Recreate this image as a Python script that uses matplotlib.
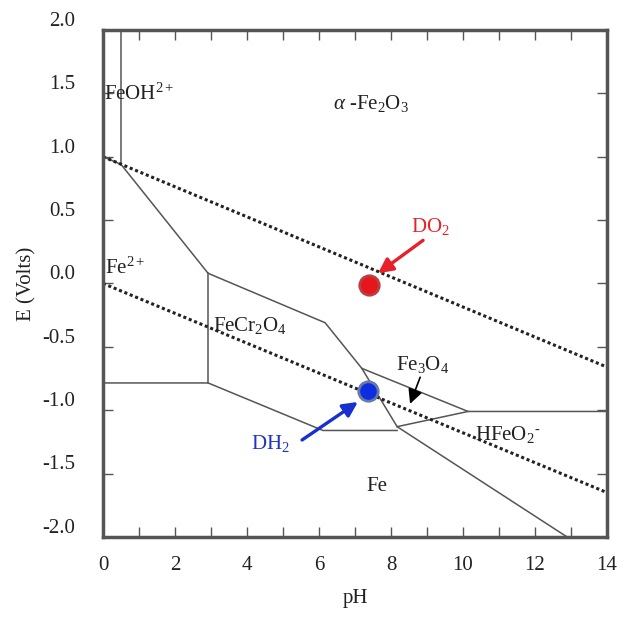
import matplotlib
matplotlib.use('Agg')
import matplotlib.pyplot as plt
import matplotlib.transforms as mtransforms
import numpy as np

# boundary lines of the Pourbaix diagram (pH, E)
feoh_ph = [0.5, 0.5]
feoh_e = [2.0, 0.94]

upper_ph = [0.0, 0.5, 2.92, 6.17, 7.19, 8.17, 12.89]
upper_e = [1.0, 0.94, 0.08, -0.31, -0.67, -1.13, -2.0]

fe3o4_top_ph = [7.19, 10.14, 14.0]
fe3o4_top_e = [-0.67, -1.01, -1.01]

fe3o4_bot_ph = [8.17, 10.14]
fe3o4_bot_e = [-1.13, -1.01]

fecr_vert_ph = [2.92, 2.92]
fecr_vert_e = [0.08, -0.785]

lower_ph = [0.0, 2.92, 6.11, 8.17]
lower_e = [-0.785, -0.785, -1.16, -1.16]

# water stability lines
water_ph = [0.0, 14.0]
o2_e = [1.0, -0.66]
h2_e = [0.0, -1.65]

# measured potentials
do2_point = (7.38, -0.01)
dh2_point = (7.36, -0.85)

# arrows (tail, head)
do2_arrow = ((8.89, 0.34), (7.64, 0.08))
dh2_arrow = ((5.53, -1.235), (7.08, -0.935))
fe3o4_arrow = ((8.81, -0.74), (8.53, -0.95))

plt.rcParams['font.family'] = ['Liberation Serif', 'DejaVu Serif']
plt.rcParams['mathtext.fontset'] = 'custom'
plt.rcParams['mathtext.rm'] = 'Liberation Serif'
plt.rcParams['mathtext.it'] = 'Liberation Serif:italic'

fig = plt.figure(figsize=(6.24, 6.28), dpi=100)
ax = fig.add_axes([0.165, 0.145, 0.8078, 0.8073])

line_kw = dict(color='#555555', lw=1.1)
ax.plot(feoh_ph, feoh_e, **line_kw)
ax.plot(upper_ph, upper_e, **line_kw)
ax.plot(fe3o4_top_ph, fe3o4_top_e, **line_kw)
ax.plot(fe3o4_bot_ph, fe3o4_bot_e, **line_kw)
ax.plot(fecr_vert_ph, fecr_vert_e, **line_kw)
ax.plot(lower_ph, lower_e, **line_kw)

ax.plot(water_ph, o2_e, color='#222222', lw=2.2, linestyle=(0, (1, 0.9)))
ax.plot(water_ph, h2_e, color='#222222', lw=2.2, linestyle=(0, (1, 0.9)))

ax.plot(*do2_point, 'o', ms=14, mfc='#e8161c', mec='#b84040', mew=2, zorder=5)
ax.plot(*dh2_point, 'o', ms=14, mfc='#0c2ee0', mec='#6a78a8', mew=2, zorder=5)

txt = dict(fontsize=15, color='#222222')
ax.text(0.03, 1.49, 'FeOH$^{2+}$', va='center', ha='left', **txt)
ax.text(7.45, 1.42, r'$\alpha$ -Fe$_2$O$_3$', va='center', ha='center', **txt)
ax.text(0.05, 0.12, 'Fe$^{2+}$', va='center', ha='left', **txt)
ax.text(3.05, -0.33, 'FeCr$_2$O$_4$', va='center', ha='left', **txt)
ax.text(10.33, -1.19, 'HFeO$_2$$^{\\text{-}}$', va='center', ha='left', **txt)
ax.text(7.6, -1.6, 'Fe', va='center', ha='center', **txt)
ax.text(8.89, -0.64, 'Fe$_3$O$_4$', va='center', ha='center', **txt)
ax.text(9.1, 0.45, 'DO$_2$', va='center', ha='center', fontsize=15, color='#e8202a')
ax.text(4.65, -1.26, 'DH$_2$', va='center', ha='center', fontsize=15, color='#2034c0')

for (tail, head), col, w in [(do2_arrow, '#e8202a', 2.4),
                             (dh2_arrow, '#1830d0', 2.4),
                             (fe3o4_arrow, 'black', 1.2)]:
    ax.annotate('', xy=head, xytext=tail,
                arrowprops=dict(arrowstyle='-|>', color=col, lw=w,
                                mutation_scale=22, shrinkA=0, shrinkB=0))

ax.set_xlim(0, 14)
ax.set_ylim(-2, 2)
ax.set_xticks(np.arange(0, 15, 2))
ax.set_xticks(np.arange(0, 15, 1), minor=True)
ax.set_yticks(np.arange(-2, 2.01, 0.5))
ax.set_yticklabels([f'{v:.1f}' for v in np.arange(-2, 2.01, 0.5)])
ax.tick_params(which='both', direction='in', top=True, right=True,
               length=7, width=1, color='#555555', labelsize=15,
               labelcolor='#222222')
ax.tick_params(axis='x', pad=14)
ax.tick_params(axis='y', pad=20)
for spine in ax.spines.values():
    spine.set_linewidth(2.5)
    spine.set_color('#555555')

# y tick labels sit a little above their ticks in the original
shift = mtransforms.ScaledTranslation(0, 8 / 72, fig.dpi_scale_trans)
for lbl in ax.get_yticklabels():
    lbl.set_transform(lbl.get_transform() + shift)

ax.set_xlabel('pH', fontsize=15, color='#222222', labelpad=10)
ax.set_ylabel('E (Volts)', fontsize=15, color='#222222', labelpad=4)

fig.savefig('out.png', dpi=100)
